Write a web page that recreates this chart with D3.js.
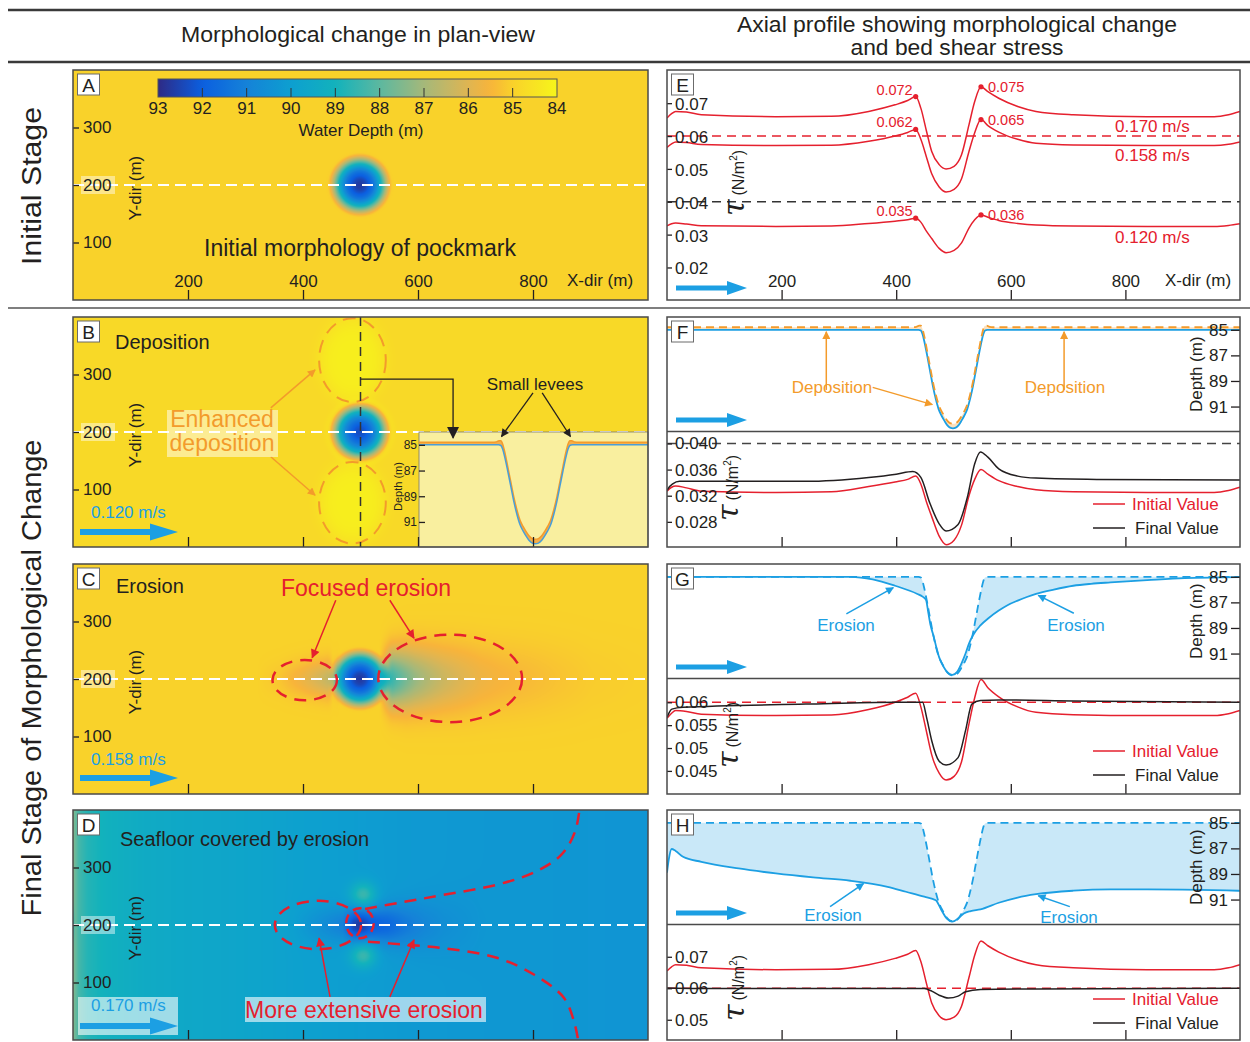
<!DOCTYPE html>
<html lang="en">
<head>
<meta charset="utf-8">
<title>Pockmark morphology and bed shear stress</title>
<script src="https://cdn.jsdelivr.net/npm/d3@7/dist/d3.min.js"></script>
<style>
  html, body { margin: 0; padding: 0; background: #ffffff; }
  svg { display: block; font-family: "Liberation Sans", Arial, Helvetica, sans-serif; }
</style>
</head>
<body>
<svg id="fig" width="1250" height="1042" xmlns="http://www.w3.org/2000/svg"></svg>
<script>
// ===== Colour bar: water depth (m) =====
const colorbarTicks = [93, 92, 91, 90, 89, 88, 87, 86, 85, 84];
const depthStops  = [93, 92, 91, 90, 89, 88, 87, 86, 85.5, 85, 84];
const depthColors = ["#2e2a85", "#0b5fe0", "#1582d8", "#0d9fd0", "#12b2bc", "#5cb8a0",
                     "#a5b87a", "#dfb552", "#f8b43a", "#f9d22a", "#f6f51a"];

// ===== Axis ticks =====
const xTicks = [200, 400, 600, 800];
const yTicks = [100, 200, 300];
const depthTicks = [85, 87, 89, 91];
const tauTicksE = [0.02, 0.03, 0.04, 0.05, 0.06, 0.07];
const tauTicksF = [0.028, 0.032, 0.036, 0.040];
const tauTicksG = [0.045, 0.05, 0.055, 0.06];
const tauTicksH = [0.05, 0.06, 0.07];

// ===== Pockmark geometry (m) =====
const pitCentre = [499, 200];
const pitRadius = [0, 5, 10, 15, 20, 25, 30, 35, 40, 45, 50, 53, 56, 60];
const pitDepth  = [92.7, 92.65, 92.45, 92.1, 91.7, 91.2, 90.4, 89.4, 88.2, 87.0, 85.9, 85.35, 85.05, 85.0];
// after deposition at 0.120 m/s, with small levees on the rim
const depRadius = [0, 5, 10, 15, 20, 25, 30, 35, 40, 45, 50, 53, 56, 59, 64, 70];
const depDepth  = [92.35, 92.3, 92.1, 91.75, 91.35, 90.85, 90.05, 89.05, 87.85, 86.65, 85.5, 84.95, 84.68, 84.68, 84.78, 84.8];

// axial profile after erosion at 0.158 m/s
const erodedGX = [0, 300, 320, 359, 398, 437, 446, 452, 456, 460, 465, 470, 475, 480, 485, 490, 498, 506, 514, 521,
                  527, 534, 547, 562, 579, 595, 612, 628, 644, 675, 709, 740, 774, 838, 903, 968, 1000];
const erodedGD = [85.0, 85.0, 85.0, 85.2, 85.7, 86.34, 86.55, 86.8, 87.8, 88.8, 89.6, 90.5, 91.3, 91.8, 92.2, 92.5, 92.67, 92.45, 91.77, 91.0,
                  90.22, 89.57, 88.8, 88.2, 87.64, 87.2, 86.86, 86.58, 86.34, 86.0, 85.7, 85.55, 85.44, 85.26, 85.1, 85.05, 85.03];
// axial profile after erosion at 0.170 m/s
const erodedHX = [0, 3, 8, 15, 28, 60, 125, 190, 255, 320, 385, 417, 449, 469, 479, 488, 498, 508, 518, 530,
                  547, 579, 612, 644, 709, 774, 838, 900, 997, 1000];
const erodedHD = [88.9, 87.9, 87.05, 87.2, 87.66, 88.05, 88.57, 88.96, 89.27, 89.53, 90.0, 90.39, 90.78, 91.05, 91.83, 92.48, 92.73, 92.48, 92.09, 91.9,
                  91.77, 91.25, 90.84, 90.58, 90.31, 90.21, 90.21, 90.22, 90.31, 90.32];
// seabed away from the axis at 0.170 m/s
const seabedDX = [0, 4, 10, 25, 60, 125, 190, 255, 320, 385, 450, 520, 600, 700, 850, 1000];
const seabedDD = [87.4, 87.8, 88.3, 88.75, 89.1, 89.4, 89.55, 89.65, 89.75, 89.9, 90.0, 90.1, 90.2, 90.25, 90.3, 90.35];

// lateral half-widths of the eroded zones (m)
const spreadCX = [300, 400, 460, 520, 580, 680, 800, 1000];
const spreadCW = [26, 30, 32, 40, 52, 58, 60, 60];
const spreadDX = [0, 350, 430, 480, 520, 600, 700, 850, 1000];
const spreadDW = [30, 30, 32, 28, 30, 40, 55, 70, 80];

// enhanced deposition lobes (0.120 m/s)
const lobeX = [486, 486], lobeY = [325, 77], lobeRx = [58, 58], lobeRy = [73, 71], lobeLift = [0.6, 0.6];
// shallow spots beside the pockmark (0.170 m/s)
const spotX = [505, 505], spotY = [252, 148], spotR = [22, 22], spotLift = [1.7, 1.7];

// ===== Bed shear stress along the axis (N/m²) =====
const tauX   = [0, 8, 15, 34, 60, 190, 287, 352, 398, 420, 443, 453, 462, 475, 487, 501, 514, 527, 537, 560,
                579, 612, 644, 709, 838, 955, 980, 1000];
const tau170 = [0.0655, 0.0668, 0.0675, 0.0673, 0.0665, 0.0659, 0.066, 0.0675, 0.0695, 0.0708, 0.0685, 0.0614, 0.0553, 0.0513, 0.0500, 0.0508, 0.0543, 0.0634, 0.0705, 0.0735,
                0.0715, 0.069, 0.0675, 0.0665, 0.0659, 0.0659, 0.0665, 0.0675];
const tau158 = [0.0565, 0.0576, 0.0582, 0.058, 0.0574, 0.0571, 0.0572, 0.0584, 0.06, 0.0611, 0.059, 0.0535, 0.0485, 0.0445, 0.043, 0.0438, 0.047, 0.0553, 0.061, 0.0632,
                0.0612, 0.059, 0.0578, 0.0573, 0.0571, 0.0571, 0.0575, 0.0582];
const tau120 = [0.0327, 0.0333, 0.0335, 0.0332, 0.0327, 0.0325, 0.0326, 0.0334, 0.0341, 0.0345, 0.0338, 0.031, 0.0288, 0.0258, 0.0245, 0.0252, 0.0275, 0.032, 0.0345, 0.0353,
                0.0343, 0.0334, 0.0329, 0.0326, 0.0325, 0.0325, 0.0328, 0.0333];
const peakX   = [434, 548];
const peak170 = [0.072, 0.075];
const peak158 = [0.062, 0.065];
const peak120 = [0.035, 0.036];
const velocityLabels = ["0.170 m/s", "0.158 m/s", "0.120 m/s"];

const tauFinalFX = [0, 2, 10, 22, 120, 242, 352, 400, 429, 443, 459, 475, 487, 508, 524, 537, 547, 560, 579, 612, 644, 750, 1000];
const tauFinalF  = [0.0328, 0.0331, 0.0338, 0.0342, 0.0342, 0.0342, 0.0348, 0.0353, 0.0357, 0.0348, 0.0308, 0.0277, 0.0266, 0.0276, 0.0317, 0.0369, 0.0387, 0.0379, 0.0361, 0.035, 0.0347, 0.0345, 0.0344];
const tauFinalGX = [0, 4, 8.5, 28, 242, 398, 446, 453, 462, 475, 487, 508, 521, 532, 547, 579, 709, 997, 1000];
const tauFinalG  = [0.0567, 0.0578, 0.0585, 0.0589, 0.0596, 0.06, 0.06, 0.0567, 0.0516, 0.0471, 0.0463, 0.0479, 0.0538, 0.0596, 0.0604, 0.0605, 0.0603, 0.06, 0.06];
const tauFinalHX = [0, 100, 400, 449, 462, 475, 491, 508, 521, 547, 644, 1000];
const tauFinalH  = [0.0601, 0.0599, 0.0599, 0.0599, 0.0591, 0.0578, 0.0569, 0.0575, 0.0589, 0.0596, 0.0598, 0.06];
const criticalTau = [0.04, 0.06];

// ===== Layout =====
const svg = d3.select("#fig");
const defs = svg.append("defs");
const INK = "#231f20", RED = "#e5202e", BLUE = "#1c9fe3", ORANGE = "#f39b2b", FRAME = "#4a4a4a";
const LX = 73, RX = 667, WL = 575, WR = 573, PH = 230, SPLIT = 114.5;
const ROWS = [70, 317, 564, 810];

function addMarker(id, color, len, wid) {
  defs.append("marker").attr("id", id)
    .attr("viewBox", "0 0 10 10").attr("refX", 9).attr("refY", 5)
    .attr("markerUnits", "userSpaceOnUse").attr("markerWidth", len).attr("markerHeight", wid)
    .attr("orient", "auto")
    .append("path").attr("d", "M0,0L10,5L0,10Z").attr("fill", color);
}
addMarker("mRed", RED, 11, 9);
addMarker("mOrange", ORANGE, 10, 8);
addMarker("mBlack", INK, 13, 12);
addMarker("mBlackS", INK, 10, 8);
addMarker("mBlue", BLUE, 10, 8);

// ===== Scales =====
const xPlan = d3.scaleLinear().domain([0, 1000]).range([0, WL]);
const yPlan = d3.scaleLinear().domain([0, 400]).range([PH, 0]);
const xProf = d3.scaleLinear().domain([0, 1000]).range([0, WR]);
const yDepth = d3.scaleLinear().domain([84, 92.95]).range([0, SPLIT]);
const yTauE = d3.scaleLinear().domain([0.0101, 0.0801]).range([PH, 0]);
const yTauF = d3.scaleLinear().domain([0.02415, 0.04183]).range([PH, SPLIT]);
const yTauG = d3.scaleLinear().domain([0.03995, 0.0652]).range([PH, SPLIT]);
const yTauH = d3.scaleLinear().domain([0.04357, 0.08025]).range([PH, SPLIT]);
const depthColor = d3.scaleLinear().domain(depthStops).range(depthColors).clamp(true);

const interp = (xs, ys) => d3.scaleLinear().domain(xs).range(ys).clamp(true);
const pitAt = interp(pitRadius, pitDepth);
const depAt = interp(depRadius, depDepth);
const gAt = interp(erodedGX, erodedGD);
const hAt = interp(erodedHX, erodedHD);
const seabedAt = interp(seabedDX, seabedDD);
const wCAt = interp(spreadCX, spreadCW);
const wDAt = interp(spreadDX, spreadDW);

const zip = (xs, ys) => xs.map((x, i) => [x, ys[i]]);
function withPeaks(xs, ys, pv) {
  return zip(xs, ys).concat(zip(peakX, pv)).sort((a, b) => a[0] - b[0]);
}
function axial(radius, depth) {
  const far = depth[depth.length - 1];
  const pts = [[0, far]];
  for (let i = radius.length - 1; i >= 0; i--) pts.push([pitCentre[0] - radius[i], depth[i]]);
  for (let i = 1; i < radius.length; i++) pts.push([pitCentre[0] + radius[i], depth[i]]);
  pts.push([1000, far]);
  return pts;
}
const profInitial = axial(pitRadius, pitDepth);
const profDeposit = axial(depRadius, depDepth);
const profG = zip(erodedGX, erodedGD);
const profH = zip(erodedHX, erodedHD);

// ===== Plan-view depth fields =====
const distPit = (x, y) => Math.hypot(x - pitCentre[0], y - pitCentre[1]);
const fieldA = (x, y) => pitAt(distPit(x, y));
const fieldB = (x, y) => {
  let d = depAt(distPit(x, y));
  for (let k = 0; k < lobeX.length; k++) {
    const q = ((x - lobeX[k]) / lobeRx[k]) ** 2 + ((y - lobeY[k]) / lobeRy[k]) ** 2;
    d -= lobeLift[k] * Math.exp(-Math.pow(q, 2.5));
  }
  return d;
};
const fieldC = (x, y) => {
  const e = Math.max(0, gAt(x) - pitAt(Math.abs(x - pitCentre[0])));
  const w = wCAt(x);
  return pitAt(distPit(x, y)) + e * Math.exp(-(((y - pitCentre[1]) / w) ** 2));
};
const fieldD = (x, y) => {
  const bg = seabedAt(x), ax = hAt(x), w = wDAt(x);
  let d = bg + Math.max(0, ax - bg) * Math.exp(-(((y - pitCentre[1]) / w) ** 2));
  for (let k = 0; k < spotX.length; k++) {
    d -= spotLift[k] * Math.exp(-(((x - spotX[k]) ** 2 + (y - spotY[k]) ** 2) / spotR[k] ** 2));
  }
  return d;
};

// colour lookup table
const LUT_LO = 83, LUT_HI = 95, LUT_N = 1201;
const lut = new Uint8ClampedArray(LUT_N * 3);
for (let i = 0; i < LUT_N; i++) {
  const c = d3.rgb(depthColor(LUT_LO + (LUT_HI - LUT_LO) * i / (LUT_N - 1)));
  lut[i * 3] = c.r; lut[i * 3 + 1] = c.g; lut[i * 3 + 2] = c.b;
}
function paint(field) {
  const cv = document.createElement("canvas");
  cv.width = WL; cv.height = PH;
  const ctx = cv.getContext("2d");
  const im = ctx.createImageData(WL, PH);
  for (let j = 0; j < PH; j++) {
    const ym = yPlan.invert(j + 0.5);
    for (let i = 0; i < WL; i++) {
      const xm = xPlan.invert(i + 0.5);
      let k = Math.round((field(xm, ym) - LUT_LO) / (LUT_HI - LUT_LO) * (LUT_N - 1));
      k = Math.max(0, Math.min(LUT_N - 1, k));
      const p = (j * WL + i) * 4;
      im.data[p] = lut[k * 3]; im.data[p + 1] = lut[k * 3 + 1]; im.data[p + 2] = lut[k * 3 + 2]; im.data[p + 3] = 255;
    }
  }
  ctx.putImageData(im, 0, 0);
  return cv.toDataURL();
}

// ===== Helpers =====
function styleAxis(sel, size) {
  sel.attr("font-family", null).attr("font-size", null);
  sel.select(".domain").remove();
  sel.selectAll(".tick line").attr("stroke", INK).attr("stroke-width", 1.3);
  sel.selectAll(".tick text").attr("fill", INK).attr("font-size", size || 17);
}
function letterBox(g, letter) {
  g.append("rect").attr("x", 4.5).attr("y", 4).attr("width", 22).attr("height", 21)
    .attr("fill", "#fff").attr("stroke", "#6b6b6b").attr("stroke-width", 1);
  g.append("text").attr("x", 15.5).attr("y", 21.5).attr("text-anchor", "middle")
    .attr("font-size", 19).attr("fill", INK).text(letter);
}
function label(g, x, y, txt, opts = {}) {
  return g.append("text").attr("x", x).attr("y", y)
    .attr("text-anchor", opts.anchor || "start")
    .attr("font-size", opts.size || 17)
    .attr("fill", opts.color || INK)
    .text(txt);
}
function flowArrow(g, x0, x1, y, shaft, headLen, headH) {
  const p = d3.path();
  p.moveTo(x0, y - shaft / 2); p.lineTo(x1 - headLen, y - shaft / 2); p.lineTo(x1 - headLen, y - headH / 2);
  p.lineTo(x1, y); p.lineTo(x1 - headLen, y + headH / 2); p.lineTo(x1 - headLen, y + shaft / 2);
  p.lineTo(x0, y + shaft / 2); p.closePath();
  g.append("path").attr("d", p.toString()).attr("fill", BLUE);
}
function pointer(g, pts, color, marker, width) {
  g.append("path").attr("d", d3.line()(pts)).attr("fill", "none")
    .attr("stroke", color).attr("stroke-width", width || 1.5).attr("marker-end", `url(#${marker})`);
}
function clip(id, x, y, w, h) {
  defs.append("clipPath").attr("id", id).append("rect").attr("x", x).attr("y", y).attr("width", w).attr("height", h);
  return `url(#${id})`;
}
const planPt = (x, y) => [xPlan(x), yPlan(y)];
const depPt = (x, d) => [xProf(x), yDepth(d)];

function planPanel(row, field) {
  const g = svg.append("g").attr("transform", `translate(${LX},${ROWS[row]})`);
  const body = g.append("g").attr("clip-path", clip(`clipPlan${row}`, 0, 0, WL, PH));
  body.append("image").attr("x", 0).attr("y", 0).attr("width", WL).attr("height", PH)
    .attr("preserveAspectRatio", "none").attr("href", paint(field));
  return { g, body };
}
function axisLine(body) {
  body.append("line").attr("x1", 0).attr("x2", WL).attr("y1", yPlan(pitCentre[1])).attr("y2", yPlan(pitCentre[1]))
    .attr("stroke", "#ffffff").attr("stroke-width", 2).attr("stroke-dasharray", "11,6");
}
function finishPlan(g, letter, withXLabels) {
  g.append("rect").attr("x", 8).attr("y", yPlan(200) - 9).attr("width", 34).attr("height", 18)
    .attr("fill", "#ffffff").attr("opacity", 0.45);
  g.append("g").call(d3.axisRight(yPlan).tickValues(yTicks).tickSize(6).tickPadding(4).tickFormat(d3.format("d")))
    .call(s => styleAxis(s, 17));
  g.append("g").attr("transform", `translate(0,${PH})`)
    .call(d3.axisTop(xPlan).tickValues(xTicks).tickSize(10).tickPadding(3)
      .tickFormat(withXLabels ? d3.format("d") : () => ""))
    .call(s => styleAxis(s, 17));
  g.append("text").attr("transform", `translate(68,${PH / 2 + 3}) rotate(-90)`)
    .attr("text-anchor", "middle").attr("font-size", 17).attr("fill", INK).text("Y-dir (m)");
  g.append("rect").attr("width", WL).attr("height", PH).attr("fill", "none")
    .attr("stroke", FRAME).attr("stroke-width", 1.5);
  letterBox(g, letter);
}
function tauLabel(g, x, y) {
  const t = g.append("text").attr("transform", `translate(${x},${y}) rotate(-90)`)
    .attr("text-anchor", "middle").attr("fill", INK);
  t.append("tspan").attr("font-family", "'DejaVu Serif', 'Liberation Serif', serif")
    .attr("font-style", "italic").attr("font-size", 30).text("τ");
  t.append("tspan").attr("font-size", 16).attr("dx", 4).text("(N/m");
  t.append("tspan").attr("font-size", 10).attr("dy", -7).text("2");
  t.append("tspan").attr("font-size", 16).attr("dy", 7).text(")");
}
function depthLabel(g) {
  g.append("text").attr("transform", `translate(535,${SPLIT / 2}) rotate(-90)`)
    .attr("text-anchor", "middle").attr("font-size", 17).attr("fill", INK).text("Depth (m)");
}
function legend(g, y) {
  g.append("line").attr("x1", 426).attr("x2", 458).attr("y1", y).attr("y2", y).attr("stroke", RED).attr("stroke-width", 1.5);
  label(g, 465, y + 6, "Initial Value", { color: RED });
  g.append("line").attr("x1", 426).attr("x2", 458).attr("y1", y + 24).attr("y2", y + 24).attr("stroke", INK).attr("stroke-width", 1.5);
  label(g, 468, y + 30, "Final Value");
}

const lineTau = (ys) => d3.line().x(d => xProf(d[0])).y(d => ys(d[1])).curve(d3.curveMonotoneX);
const lineDepth = d3.line().x(d => xProf(d[0])).y(d => yDepth(d[1])).curve(d3.curveMonotoneX);
function between(lineGen, a, b) {
  const rev = b.slice().reverse();
  return lineGen(a) + "L" + lineGen(rev).slice(1) + "Z";
}

// ===== Headers and row labels =====
svg.append("line").attr("x1", 8).attr("x2", 1250).attr("y1", 10).attr("y2", 10).attr("stroke", "#3a3a3a").attr("stroke-width", 2.5);
svg.append("line").attr("x1", 8).attr("x2", 1250).attr("y1", 62).attr("y2", 62).attr("stroke", "#3a3a3a").attr("stroke-width", 2.5);
svg.append("line").attr("x1", 8).attr("x2", 1250).attr("y1", 308).attr("y2", 308).attr("stroke", "#555").attr("stroke-width", 1.5);

const headFont = "'Liberation Sans Narrow', 'Arial Narrow', 'Liberation Sans', Arial, sans-serif";
svg.append("text").attr("x", 358).attr("y", 42).attr("text-anchor", "middle").attr("font-family", headFont)
  .attr("font-size", 22).attr("fill", INK).attr("textLength", 354).attr("lengthAdjust", "spacingAndGlyphs")
  .text("Morphological change in plan-view");
svg.append("text").attr("x", 957).attr("y", 32).attr("text-anchor", "middle").attr("font-family", headFont)
  .attr("font-size", 22).attr("fill", INK).attr("textLength", 440).attr("lengthAdjust", "spacingAndGlyphs")
  .text("Axial profile showing morphological change");
svg.append("text").attr("x", 957).attr("y", 55).attr("text-anchor", "middle").attr("font-family", headFont)
  .attr("font-size", 22).attr("fill", INK).attr("textLength", 213).attr("lengthAdjust", "spacingAndGlyphs")
  .text("and bed shear stress");

svg.append("text").attr("transform", "translate(41,186) rotate(-90)").attr("text-anchor", "middle")
  .attr("font-size", 27).attr("fill", INK).attr("textLength", 158).attr("lengthAdjust", "spacingAndGlyphs")
  .text("Initial  Stage");
svg.append("text").attr("transform", "translate(41,678) rotate(-90)").attr("text-anchor", "middle")
  .attr("font-size", 27).attr("fill", INK).attr("textLength", 477).attr("lengthAdjust", "spacingAndGlyphs")
  .text("Final  Stage of Morphological Change");

// ===== A: initial plan view =====
{
  const { g, body } = planPanel(0, fieldA);
  axisLine(body);
  // colour bar
  const cbX = d3.scaleLinear().domain([93, 84]).range([85, 484]);
  const grad = defs.append("linearGradient").attr("id", "cbGrad").attr("x1", "0%").attr("x2", "100%");
  d3.range(0, 1.0001, 0.02).forEach(t => {
    grad.append("stop").attr("offset", `${t * 100}%`).attr("stop-color", depthColor(93 - 9 * t));
  });
  g.append("rect").attr("x", cbX(93)).attr("y", 9).attr("width", cbX(84) - cbX(93)).attr("height", 18)
    .attr("fill", "url(#cbGrad)").attr("stroke", "#555").attr("stroke-width", 1);
  g.append("g").selectAll("line").data(colorbarTicks.slice(1, -1)).join("line")
    .attr("x1", d => cbX(d)).attr("x2", d => cbX(d)).attr("y1", 27).attr("y2", 18)
    .attr("stroke", "#333").attr("stroke-width", 1);
  g.append("g").selectAll("text").data(colorbarTicks).join("text")
    .attr("x", d => cbX(d)).attr("y", 44).attr("text-anchor", "middle")
    .attr("font-size", 17).attr("fill", INK).text(d => d);
  label(g, 288, 66, "Water Depth (m)", { anchor: "middle" });
  label(g, 287, 186, "Initial morphology of pockmark", { anchor: "middle", size: 23 });
  label(g, 494, 216, "X-dir (m)");
  finishPlan(g, "A", true);
}

// ===== B: deposition =====
{
  const { g, body } = planPanel(1, fieldB);
  const ann = body.append("g");
  lobeX.forEach((x, k) => {
    ann.append("ellipse").attr("cx", xPlan(x)).attr("cy", yPlan(lobeY[k]))
      .attr("rx", xPlan(lobeRx[k]) - xPlan(0)).attr("ry", yPlan(0) - yPlan(lobeRy[k]))
      .attr("fill", "none").attr("stroke", ORANGE).attr("stroke-width", 2).attr("stroke-dasharray", "13,8");
  });
  ann.append("line").attr("x1", xPlan(500)).attr("x2", xPlan(500)).attr("y1", 0).attr("y2", PH)
    .attr("stroke", "#333").attr("stroke-width", 1.5).attr("stroke-dasharray", "9,6");
  axisLine(body);

  // inset profile
  const inX0 = 346, inY0 = yPlan(pitCentre[1]);
  const xIn = d3.scaleLinear().domain([310, 682]).range([0, WL - inX0]);
  const yIn = d3.scaleLinear().domain([84, 92.95]).range([0, PH - inY0]);
  const inset = g.append("g").attr("transform", `translate(${inX0},${inY0})`);
  inset.append("rect").attr("width", WL - inX0).attr("height", PH - inY0).attr("fill", "#f9ef9f")
    .attr("stroke", "#777").attr("stroke-width", 0.8);
  const inBody = inset.append("g").attr("clip-path", clip("clipInset", 0, 0, WL - inX0, PH - inY0));
  const lineIn = d3.line().x(d => xIn(d[0])).y(d => yIn(d[1])).curve(d3.curveMonotoneX);
  inBody.append("path").attr("d", between(lineIn, profInitial, profDeposit)).attr("fill", "#f4a33a").attr("opacity", 0.85);
  inBody.append("path").attr("d", lineIn(profDeposit)).attr("fill", "none").attr("stroke", ORANGE).attr("stroke-width", 1.5);
  inBody.append("path").attr("d", lineIn(profInitial)).attr("fill", "none").attr("stroke", "#4a9ed8").attr("stroke-width", 1.5);
  inset.append("g").call(d3.axisLeft(yIn).tickValues(depthTicks).tickSize(-6).tickPadding(2))
    .call(s => styleAxis(s, 12));
  inset.append("text").attr("transform", `translate(-17,${(PH - inY0) / 2 - 3}) rotate(-90)`)
    .attr("text-anchor", "middle").attr("font-size", 11).attr("fill", INK).text("Depth (m)");

  // annotations
  pointer(g, [planPt(500, 292), planPt(661, 292), planPt(661, 190)], INK, "mBlack", 1.3);
  pointer(g, [planPt(344, 242), planPt(421, 308)], ORANGE, "mOrange", 1.5);
  pointer(g, [planPt(344, 157), planPt(421, 90)], ORANGE, "mOrange", 1.5);
  pointer(g, [planPt(800, 268), [inX0 + xIn(444), inY0 + yIn(84.35)]], INK, "mBlackS", 1.3);
  pointer(g, [planPt(816, 268), [inX0 + xIn(556), inY0 + yIn(84.35)]], INK, "mBlackS", 1.3);
  label(g, 462, 73, "Small levees", { anchor: "middle" });

  g.append("rect").attr("x", 94).attr("y", 93).attr("width", 111).attr("height", 47).attr("fill", "#fff").attr("opacity", 0.5);
  label(g, 149, 110, "Enhanced", { anchor: "middle", size: 23, color: ORANGE });
  label(g, 149, 134, "deposition", { anchor: "middle", size: 23, color: ORANGE });
  label(g, 42, 32, "Deposition", { size: 20 });
  label(g, 18, 201, "0.120 m/s", { color: BLUE });
  flowArrow(g, 7, 105, 215, 6, 28, 17);
  finishPlan(g, "B", false);
}

// ===== C: erosion =====
{
  const { g, body } = planPanel(2, fieldC);
  axisLine(body);
  const ell = [[403, 198, 56, 35], [656, 201, 125, 76]];
  body.append("g").selectAll("ellipse").data(ell).join("ellipse")
    .attr("cx", d => xPlan(d[0])).attr("cy", d => yPlan(d[1]))
    .attr("rx", d => xPlan(d[2]) - xPlan(0)).attr("ry", d => yPlan(0) - yPlan(d[3]))
    .attr("fill", "none").attr("stroke", RED).attr("stroke-width", 2.5).attr("stroke-dasharray", "12,8");
  pointer(g, [planPt(457, 337), planPt(416, 237)], RED, "mRed", 1.5);
  pointer(g, [planPt(551, 337), planPt(593, 271)], RED, "mRed", 1.5);
  label(g, 293, 32, "Focused erosion", { anchor: "middle", size: 23, color: RED });
  label(g, 43, 29, "Erosion", { size: 20 });
  label(g, 18, 201, "0.158 m/s", { color: BLUE });
  flowArrow(g, 7, 105, 214, 6, 28, 17);
  finishPlan(g, "C", false);
}

// ===== D: extensive erosion =====
{
  const { g, body } = planPanel(3, fieldD);
  axisLine(body);
  const ann = body.append("g").attr("fill", "none").attr("stroke", RED).attr("stroke-width", 2.5).attr("stroke-dasharray", "12,8");
  ann.append("ellipse").attr("cx", xPlan(426)).attr("cy", yPlan(200))
    .attr("rx", xPlan(75) - xPlan(0)).attr("ry", yPlan(0) - yPlan(42));
  ann.append("ellipse").attr("cx", xPlan(499)).attr("cy", yPlan(203))
    .attr("rx", xPlan(24) - xPlan(0)).attr("ry", yPlan(0) - yPlan(26)).attr("stroke-dasharray", "9,6");
  const funnelUpper = [[508, 228], [575, 240], [642, 252], [737, 270], [803, 292], [849, 322], [873, 362], [882, 410]];
  const funnelLower = [[513, 171], [575, 166], [642, 160], [737, 143], [803, 113], [854, 73], [873, 26], [880, -10]];
  const lineFunnel = d3.line().x(d => xPlan(d[0])).y(d => yPlan(d[1])).curve(d3.curveCatmullRom);
  ann.append("path").attr("d", lineFunnel(funnelUpper));
  ann.append("path").attr("d", lineFunnel(funnelLower));
  g.append("rect").attr("x", 172).attr("y", 187).attr("width", 241).attr("height", 25).attr("fill", "#fff").attr("opacity", 0.6);
  pointer(g, [planPt(447, 75), planPt(428, 177)], RED, "mRed", 1.5);
  pointer(g, [planPt(551, 75), planPt(593, 174)], RED, "mRed", 1.5);
  label(g, 291, 208, "More extensive erosion", { anchor: "middle", size: 23, color: RED });
  label(g, 47, 36, "Seafloor covered by erosion", { size: 20 });
  g.append("rect").attr("x", 5).attr("y", 187).attr("width", 100).attr("height", 38).attr("fill", "#fff").attr("opacity", 0.6);
  label(g, 18, 201, "0.170 m/s", { color: BLUE });
  flowArrow(g, 7, 105, 216, 6, 28, 17);
  finishPlan(g, "D", false);
}

// ===== E: initial bed shear stress =====
{
  const g = svg.append("g").attr("transform", `translate(${RX},${ROWS[0]})`);
  const body = g.append("g").attr("clip-path", clip("clipE", 0, 0, WR, PH));
  body.append("line").attr("x1", 0).attr("x2", WR).attr("y1", yTauE(criticalTau[1])).attr("y2", yTauE(criticalTau[1]))
    .attr("stroke", RED).attr("stroke-width", 1.5).attr("stroke-dasharray", "9,6");
  body.append("line").attr("x1", 0).attr("x2", WR).attr("y1", yTauE(criticalTau[0])).attr("y2", yTauE(criticalTau[0]))
    .attr("stroke", "#333").attr("stroke-width", 1.5).attr("stroke-dasharray", "9,6");
  const series = [[tau170, peak170], [tau158, peak158], [tau120, peak120]];
  series.forEach(([ys, pv]) => {
    body.append("path").attr("d", lineTau(yTauE)(withPeaks(tauX, ys, pv)))
      .attr("fill", "none").attr("stroke", RED).attr("stroke-width", 1.5);
    peakX.forEach((px, i) => {
      body.append("circle").attr("cx", xProf(px)).attr("cy", yTauE(pv[i])).attr("r", 2.6).attr("fill", RED);
      if (i === 0) label(g, xProf(px) - 3, yTauE(pv[i]) - 2, pv[i].toFixed(3), { anchor: "end", size: 14.5, color: RED });
      else label(g, xProf(px) + 7, yTauE(pv[i]) + 5, pv[i].toFixed(3), { size: 14.5, color: RED });
    });
  });
  label(g, 448, 62, velocityLabels[0], { color: RED });
  label(g, 448, 91, velocityLabels[1], { color: RED });
  label(g, 448, 173, velocityLabels[2], { color: RED });
  g.append("g").call(d3.axisRight(yTauE).tickValues(tauTicksE).tickSize(5).tickPadding(3).tickFormat(d3.format(".2f")))
    .call(s => styleAxis(s, 17))
    .call(s => s.selectAll(".tick text").attr("dy", "0.38em"));
  g.append("g").attr("transform", `translate(0,${PH})`)
    .call(d3.axisTop(xProf).tickValues(xTicks).tickSize(10).tickPadding(3).tickFormat(d3.format("d")))
    .call(s => styleAxis(s, 17));
  label(g, 498, 216, "X-dir (m)");
  tauLabel(g, 77, 113);
  flowArrow(g, 9, 80, 218, 5, 20, 14);
  g.append("rect").attr("width", WR).attr("height", PH).attr("fill", "none").attr("stroke", FRAME).attr("stroke-width", 1.5);
  letterBox(g, "E");
}

// ===== F, G, H: profiles and shear stress =====
function profilePanel(row, letter, cfg) {
  const g = svg.append("g").attr("transform", `translate(${RX},${ROWS[row]})`);
  const top = g.append("g").attr("clip-path", clip(`clipTop${row}`, 0, 0, WR, SPLIT));
  const bot = g.append("g").attr("clip-path", clip(`clipBot${row}`, 0, SPLIT, WR, PH - SPLIT));

  // depth profiles
  top.append("path").attr("d", between(lineDepth, cfg.initial, cfg.final)).attr("fill", cfg.fill);
  top.append("path").attr("d", lineDepth(cfg.initial)).attr("fill", "none")
    .attr("stroke", BLUE).attr("stroke-width", 1.8).attr("stroke-dasharray", cfg.initialDash);
  top.append("path").attr("d", lineDepth(cfg.final)).attr("fill", "none")
    .attr("stroke", cfg.finalColor).attr("stroke-width", 1.8).attr("stroke-dasharray", cfg.finalDash);
  g.append("g").attr("transform", `translate(${WR},0)`)
    .call(d3.axisLeft(yDepth).tickValues(depthTicks).tickSize(9).tickPadding(3))
    .call(s => styleAxis(s, 17));
  depthLabel(g);
  flowArrow(g, 9, 80, cfg.arrowY, 5, 20, 14);
  cfg.notes.forEach(n => {
    pointer(g, [depPt(...n.from), depPt(...n.to)], n.color, n.marker, 1.5);
  });
  cfg.texts.forEach(t => label(g, t[0], t[1], t[2], { anchor: "middle", color: cfg.noteColor }));

  // shear stress
  const ys = cfg.tauScale;
  bot.append("line").attr("x1", 0).attr("x2", WR).attr("y1", ys(cfg.threshold)).attr("y2", ys(cfg.threshold))
    .attr("stroke", cfg.thresholdColor).attr("stroke-width", 1.5).attr("stroke-dasharray", "9,6");
  bot.append("path").attr("d", lineTau(ys)(cfg.tauInitial)).attr("fill", "none").attr("stroke", RED).attr("stroke-width", 1.5);
  bot.append("path").attr("d", lineTau(ys)(cfg.tauFinal)).attr("fill", "none").attr("stroke", INK).attr("stroke-width", 1.5);
  g.append("g").call(d3.axisRight(ys).tickValues(cfg.tauTicks).tickSize(5).tickPadding(3).tickFormat(cfg.tauFormat))
    .call(s => styleAxis(s, 17));
  g.append("g").attr("transform", `translate(0,${PH})`)
    .call(d3.axisTop(xProf).tickValues(xTicks).tickSize(10).tickFormat(() => ""))
    .call(s => styleAxis(s, 17));
  tauLabel(g, cfg.tauLabel[0], cfg.tauLabel[1]);
  legend(g, cfg.legendY);

  g.append("line").attr("x1", 0).attr("x2", WR).attr("y1", SPLIT).attr("y2", SPLIT).attr("stroke", FRAME).attr("stroke-width", 1.3);
  g.append("rect").attr("width", WR).attr("height", PH).attr("fill", "none").attr("stroke", FRAME).attr("stroke-width", 1.5);
  letterBox(g, letter);
}

const tauFmtG = d => String(+d.toFixed(3));

profilePanel(1, "F", {
  initial: profInitial, final: profDeposit, fill: "#fbe0bd",
  initialDash: null, finalColor: ORANGE, finalDash: "8,5",
  arrowY: 103, noteColor: ORANGE,
  notes: [
    { from: [278, 89.7], to: [278, 85.15], color: ORANGE, marker: "mOrange" },
    { from: [693, 89.7], to: [693, 85.15], color: ORANGE, marker: "mOrange" },
    { from: [359, 89.5], to: [463, 90.85], color: ORANGE, marker: "mOrange" }
  ],
  texts: [[165, 76, "Deposition"], [398, 76, "Deposition"]],
  tauScale: yTauF, threshold: criticalTau[0], thresholdColor: "#444",
  tauInitial: withPeaks(tauX, tau120, peak120), tauFinal: zip(tauFinalFX, tauFinalF),
  tauTicks: tauTicksF, tauFormat: d3.format(".3f"), tauLabel: [71, 171], legendY: 187
});

profilePanel(2, "G", {
  initial: profInitial, final: profG, fill: "#c9e8f8",
  initialDash: "8,5", finalColor: BLUE, finalDash: null,
  arrowY: 103, noteColor: BLUE,
  notes: [
    { from: [313, 87.9], to: [395, 85.85], color: BLUE, marker: "mBlue" },
    { from: [710, 87.85], to: [648, 86.45], color: BLUE, marker: "mBlue" }
  ],
  texts: [[179, 67, "Erosion"], [409, 67, "Erosion"]],
  tauScale: yTauG, threshold: criticalTau[1], thresholdColor: RED,
  tauInitial: withPeaks(tauX, tau158, peak158), tauFinal: zip(tauFinalGX, tauFinalG),
  tauTicks: tauTicksG, tauFormat: tauFmtG, tauLabel: [71, 171], legendY: 187
});

profilePanel(3, "H", {
  initial: profInitial, final: profH, fill: "#c9e8f8",
  initialDash: "8,5", finalColor: BLUE, finalDash: null,
  arrowY: 103, noteColor: BLUE,
  notes: [
    { from: [284.6, 91.55], to: [343, 89.75], color: BLUE, marker: "mBlue" },
    { from: [703, 91.55], to: [648, 90.7], color: BLUE, marker: "mBlue" }
  ],
  texts: [[166, 111, "Erosion"], [402, 113, "Erosion"]],
  tauScale: yTauH, threshold: criticalTau[1], thresholdColor: RED,
  tauInitial: withPeaks(tauX, tau170, peak170), tauFinal: zip(tauFinalHX, tauFinalH),
  tauTicks: tauTicksH, tauFormat: d3.format(".2f"), tauLabel: [77, 178], legendY: 189
});
</script>
</body>
</html>
